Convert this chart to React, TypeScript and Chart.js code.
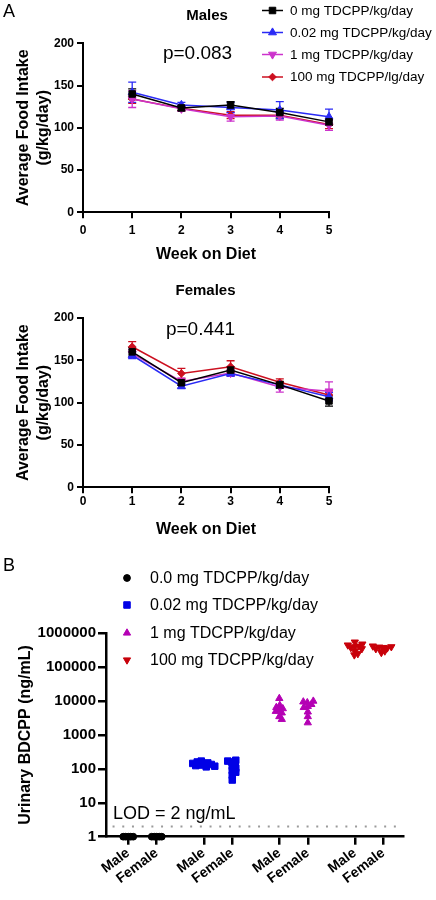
import React, { useEffect, useRef } from 'react';
import { Chart, registerables } from 'chart.js';
import { drawPoint } from 'chart.js/helpers';

Chart.register(...registerables);

const FONT = "'Liberation Sans', Arial, Helvetica, sans-serif";

// ---------------- Panel A data (food intake) ----------------
const weeks = [1, 2, 3, 4, 5];
const weekTicks = [0, 1, 2, 3, 4, 5];
const foodTicks = [0, 50, 100, 150, 200];
const doseLabelsA = ['0 mg TDCPP/kg/day', '0.02 mg TDCPP/kg/day', '1 mg TDCPP/kg/day', '100 mg TDCPP/lg/day'];

const maleMean0 = [140, 123.5, 127, 118, 107];
const maleMean002 = [142, 127, 124, 121, 113];
const maleMean1 = [134, 122.5, 113, 114, 103];
const maleMean100 = [134, 123, 115, 115, 104];
const maleSem0 = [6, 3, 4, 5, 4];
const maleSem002 = [12, 3, 6, 10, 9];
const maleSem1 = [10, 3, 5, 5, 6];
const maleSem100 = [5, 3, 4, 4, 5];

const femaleMean0 = [160, 123.5, 138.5, 121, 102];
const femaleMean002 = [156, 119.5, 134.5, 121, 107];
const femaleMean1 = [158, 125, 135, 118.5, 113.5];
const femaleMean100 = [166, 134.5, 142.5, 124, 109];
const femaleSem0 = [5, 3, 4, 4, 6];
const femaleSem002 = [4, 3, 3, 3, 5];
const femaleSem1 = [5, 4, 4, 6, 11];
const femaleSem100 = [6, 6, 7, 4, 5];

const pMales = 'p=0.083';
const pFemales = 'p=0.441';

// ---------------- Panel B data (urinary BDCPP) ----------------
const doseLabelsB = ['0.0 mg TDCPP/kg/day', '0.02 mg TDCPP/kg/day', '1 mg TDCPP/kg/day', '100 mg TDCPP/kg/day'];
const sexLabels = ['Male', 'Female', 'Male', 'Female', 'Male', 'Female', 'Male', 'Female'];
const groupPositions = [0, 1, 2.65, 3.65, 5.3, 6.3, 7.95, 8.95];
const logTicks = [1, 10, 100, 1000, 10000, 100000, 1000000];
const lodValue = 2;
const lodText = 'LOD = 2 ng/mL';

const bdcppMale0 = [1, 1, 1, 1, 1];
const bdcppFemale0 = [1, 1, 1, 1, 1];
const bdcppMale002 = [140, 150, 130, 160, 135, 170, 125, 145, 120, 115];
const bdcppFemale002 = [120, 140, 105, 160, 90, 170, 80, 180, 65, 47];
const bdcppMale1 = [5500, 6000, 5000, 6500, 4500, 7500, 3500, 12000, 2900];
const bdcppFemale1 = [7000, 8000, 6500, 9000, 9500, 4800, 10000, 3500, 2300];
const bdcppMale100 = [400000, 420000, 380000, 450000, 350000, 480000, 300000, 550000, 250000, 230000];
const bdcppFemale100 = [380000, 370000, 390000, 350000, 400000, 420000, 300000, 270000];

// ---------------- styles ----------------
const colorsA = ['#000000', '#2a2af5', '#cc33cc', '#cc1020'];
const stylesA = ['rect', 'triangle', 'triangle', 'rectRot'];
const rotA = [0, 0, 180, 0];
const radiiA = [4.6, 4.6, 4.6, 3.8];

const colorsB = ['#000000', '#0000e6', '#b400b4', '#c8000a'];
const stylesB = ['circle', 'rect', 'triangle', 'triangle'];
const rotB = [0, 0, 0, 180];
const radiiB = [3.4, 4.6, 4.2, 4.2];

const X_MIN_B = -0.78;
const X_MAX_B = 9.64;
const PX_PER_UNIT_B = 28.5;
const PX_PER_DECADE_B = 33.9;

function swarm(center: number, values: number[], minDist: number) {
  const placed: { px: number; py: number }[] = [];
  const out: { x: number; y: number }[] = [];
  for (const v of values) {
    const py = Math.log10(v) * PX_PER_DECADE_B;
    let chosen = 0;
    for (let k = 0; k < 400; k++) {
      const px = (k % 2 === 1 ? 1 : -1) * Math.ceil(k / 2) * 0.5;
      if (placed.every((p) => Math.hypot(p.px - px, p.py - py) >= minDist)) {
        chosen = px;
        break;
      }
    }
    placed.push({ px: chosen, py });
    out.push({ x: center + chosen / PX_PER_UNIT_B, y: v });
  }
  return out;
}

// ---------------- plugins ----------------
function makeTextPlugin(items: any[], extra?: (chart: any) => void) {
  return {
    id: 'texts',
    afterDraw(chart: any) {
      const ctx = chart.ctx;
      ctx.save();
      ctx.fillStyle = '#000';
      ctx.textBaseline = 'middle';
      for (const it of items) {
        ctx.font = it.font;
        ctx.textAlign = it.align || 'left';
        ctx.fillText(it.text, it.x, it.y);
      }
      if (extra) extra(chart);
      ctx.restore();
    },
  };
}

function makeLegendPlugin(cfg: any) {
  return {
    id: 'customLegend',
    afterDraw(chart: any) {
      const ctx = chart.ctx;
      ctx.save();
      ctx.font = cfg.font;
      ctx.textBaseline = 'middle';
      ctx.textAlign = 'left';
      cfg.labels.forEach((label: string, i: number) => {
        const ds = chart.data.datasets[i];
        const y = cfg.rows[i];
        ctx.strokeStyle = ds.borderColor;
        ctx.fillStyle = ds.backgroundColor;
        if (cfg.lineFrom !== undefined) {
          ctx.lineWidth = 1.5;
          ctx.beginPath();
          ctx.moveTo(cfg.lineFrom, y);
          ctx.lineTo(cfg.lineTo, y);
          ctx.stroke();
        }
        ctx.lineWidth = 1;
        drawPoint(ctx, { pointStyle: ds.pointStyle, rotation: ds.pointRotation || 0, radius: ds.pointRadius, borderWidth: 1 }, cfg.markerX, y);
        ctx.fillStyle = '#000';
        ctx.fillText(label, cfg.textX, y + 0.5);
      });
      ctx.restore();
    },
  };
}

function makeErrorBarPlugin(sems: number[][]) {
  return {
    id: 'errorBars',
    beforeDatasetsDraw(chart: any) {
      const ctx = chart.ctx;
      const yS = chart.scales.y;
      ctx.save();
      for (let i = sems.length - 1; i >= 0; i--) {
        const ds = chart.data.datasets[i];
        const meta = chart.getDatasetMeta(i);
        ctx.strokeStyle = ds.borderColor;
        ctx.lineWidth = 1.3;
        sems[i].forEach((e, j) => {
          const pt = meta.data[j];
          const v = ds.data[j].y;
          const yt = yS.getPixelForValue(v + e);
          const yb = yS.getPixelForValue(v - e);
          ctx.beginPath();
          ctx.moveTo(pt.x, yt);
          ctx.lineTo(pt.x, yb);
          ctx.moveTo(pt.x - 4, yt);
          ctx.lineTo(pt.x + 4, yt);
          ctx.moveTo(pt.x - 4, yb);
          ctx.lineTo(pt.x + 4, yb);
          ctx.stroke();
        });
      }
      ctx.restore();
    },
  };
}

// ---------------- chart configs ----------------
function foodConfig(opts: any) {
  const { means, sems, padTop, xAxisHeight, xTickPad, xTitlePad, texts, legend } = opts;
  const datasets = means.map((m: number[], i: number) => ({
    label: doseLabelsA[i],
    data: weeks.map((w, j) => ({ x: w, y: m[j] })),
    borderColor: colorsA[i],
    backgroundColor: colorsA[i],
    pointBackgroundColor: colorsA[i],
    pointBorderColor: colorsA[i],
    pointStyle: stylesA[i],
    pointRotation: rotA[i],
    pointRadius: radiiA[i],
    pointBorderWidth: 1,
    borderWidth: 1.5,
    tension: 0,
    clip: false,
  }));
  const grid = { display: true, drawOnChartArea: false, drawTicks: true, tickLength: 6, color: '#000', lineWidth: 2 };
  const border = { display: true, color: '#000', width: 2 };
  const tickFont = { family: FONT, size: 12, weight: 'bold' };
  const plugins: any[] = [makeErrorBarPlugin(sems), makeTextPlugin(texts)];
  if (legend) plugins.push(makeLegendPlugin(legend));
  return {
    type: 'line',
    data: { datasets },
    options: {
      responsive: false,
      animation: false,
      devicePixelRatio: 1,
      layout: { padding: { left: 0, top: padTop, right: 107, bottom: 0 } },
      plugins: { legend: { display: false }, tooltip: { enabled: false }, title: { display: false } },
      scales: {
        x: {
          type: 'linear',
          min: 0,
          max: 5,
          afterBuildTicks: (s: any) => { s.ticks = weekTicks.map((v) => ({ value: v })); },
          afterFit: (s: any) => { s.height = xAxisHeight; },
          grid,
          border,
          ticks: { color: '#000', font: tickFont, padding: xTickPad, maxRotation: 0, autoSkip: false },
          title: {
            display: true,
            text: 'Week on Diet',
            color: '#000',
            font: { family: FONT, size: 16, weight: 'bold' },
            padding: { top: 0, bottom: xTitlePad },
          },
        },
        y: {
          type: 'linear',
          min: 0,
          max: 200,
          afterBuildTicks: (s: any) => { s.ticks = foodTicks.map((v) => ({ value: v })); },
          afterFit: (s: any) => { s.width = 83; },
          grid,
          border,
          ticks: { color: '#000', font: tickFont, padding: 3 },
          title: {
            display: true,
            text: ['Average Food Intake', '(g/kg/day)'],
            color: '#000',
            font: { family: FONT, size: 16, weight: 'bold' },
            padding: { top: 14.4, bottom: 0 },
          },
        },
      },
    },
    plugins,
  };
}

function malesConfig() {
  return foodConfig({
    means: [maleMean0, maleMean002, maleMean1, maleMean100],
    sems: [maleSem0, maleSem002, maleSem1, maleSem100],
    padTop: 43.3,
    xAxisHeight: 57.7,
    xTickPad: 5.5,
    xTitlePad: 5.4,
    texts: [
      { text: 'A', x: 3, y: 12.5, font: `18px ${FONT}` },
      { text: 'Males', x: 207, y: 16, font: `bold 15px ${FONT}`, align: 'center' },
      { text: pMales, x: 197.5, y: 53.5, font: `19px ${FONT}`, align: 'center' },
    ],
    legend: {
      labels: doseLabelsA,
      rows: [10.5, 32.5, 54.5, 77],
      lineFrom: 262,
      lineTo: 283,
      markerX: 272.5,
      textX: 290,
      font: `13.5px ${FONT}`,
    },
  });
}

function femalesConfig() {
  return foodConfig({
    means: [femaleMean0, femaleMean002, femaleMean1, femaleMean100],
    sems: [femaleSem0, femaleSem002, femaleSem1, femaleSem100],
    padTop: 48,
    xAxisHeight: 52.7,
    xTickPad: 0.8,
    xTitlePad: 1.1,
    texts: [
      { text: 'Females', x: 205.5, y: 20.7, font: `bold 15px ${FONT}`, align: 'center' },
      { text: pFemales, x: 200.5, y: 60, font: `19px ${FONT}`, align: 'center' },
    ],
  });
}

function bdcppConfig() {
  const groups = [
    [bdcppMale0, bdcppFemale0],
    [bdcppMale002, bdcppFemale002],
    [bdcppMale1, bdcppFemale1],
    [bdcppMale100, bdcppFemale100],
  ];
  const datasets: any[] = groups.map((g, i) => ({
    type: 'scatter',
    label: doseLabelsB[i],
    data: [
      ...swarm(groupPositions[2 * i], g[0], i === 0 ? 2.5 : 3.7),
      ...swarm(groupPositions[2 * i + 1], g[1], i === 0 ? 2.5 : 3.7),
    ],
    borderColor: colorsB[i],
    backgroundColor: colorsB[i],
    pointBackgroundColor: colorsB[i],
    pointBorderColor: colorsB[i],
    pointStyle: stylesB[i],
    pointRotation: rotB[i],
    pointRadius: radiiB[i],
    pointBorderWidth: 1,
    showLine: false,
    clip: false,
  }));
  datasets.push({
    type: 'line',
    label: 'LOD',
    data: [{ x: -0.55, y: lodValue }, { x: X_MAX_B - 0.05, y: lodValue }],
    borderColor: '#9a9a9a',
    borderWidth: 2,
    borderDash: [2, 7.7],
    pointRadius: 0,
    fill: false,
    order: 10,
  });
  const grid = { display: true, drawOnChartArea: false, drawTicks: true, tickLength: 8, color: '#000', lineWidth: 2.5 };
  const border = { display: true, color: '#000', width: 2.5 };
  return {
    type: 'scatter',
    data: { datasets },
    options: {
      responsive: false,
      animation: false,
      devicePixelRatio: 1,
      layout: { padding: { left: 0, top: 88.3, right: 33, bottom: 0 } },
      plugins: { legend: { display: false }, tooltip: { enabled: false } },
      scales: {
        x: {
          type: 'linear',
          min: X_MIN_B,
          max: X_MAX_B,
          afterBuildTicks: (s: any) => { s.ticks = groupPositions.map((v) => ({ value: v })); },
          afterFit: (s: any) => { s.height = 63.3; },
          grid,
          border,
          ticks: {
            color: '#000',
            font: { family: FONT, size: 14, weight: 'bold' },
            padding: 0,
            minRotation: 37,
            maxRotation: 37,
            autoSkip: false,
            callback: (_v: any, idx: number) => sexLabels[idx],
          },
        },
        y: {
          type: 'logarithmic',
          min: 1,
          max: 1000000,
          afterBuildTicks: (s: any) => { s.ticks = logTicks.map((v) => ({ value: v })); },
          afterFit: (s: any) => { s.width = 106; },
          grid,
          border,
          ticks: { color: '#000', font: { family: FONT, size: 15, weight: 'bold' }, padding: 2, callback: (v: any) => String(v) },
          title: {
            display: true,
            text: 'Urinary BDCPP (ng/mL)',
            color: '#000',
            font: { family: FONT, size: 16, weight: 'bold' },
            padding: { top: 16.4, bottom: 0 },
          },
        },
      },
    },
    plugins: [
      makeTextPlugin([{ text: 'B', x: 3, y: 21.5, font: `18px ${FONT}` }], (chart: any) => {
        const ctx = chart.ctx;
        const y = chart.scales.y.getPixelForValue(lodValue);
        ctx.font = `18px ${FONT}`;
        ctx.textAlign = 'left';
        ctx.fillText(lodText, 113, y - 12);
      }),
      makeLegendPlugin({
        labels: doseLabelsB,
        rows: [33, 60, 88, 115],
        markerX: 127,
        textX: 150,
        font: `16px ${FONT}`,
      }),
    ],
  };
}

function ChartCanvas({ make, top, height }: { make: () => any; top: number; height: number }) {
  const ref = useRef<HTMLCanvasElement | null>(null);
  useEffect(() => {
    const chart = new Chart(ref.current as HTMLCanvasElement, make());
    return () => chart.destroy();
  }, [make]);
  return (
    <canvas
      ref={ref}
      width={436}
      height={height}
      style={{ position: 'absolute', left: 0, top, width: 436, height, display: 'block' }}
    />
  );
}

export default function App() {
  return (
    <div style={{ position: 'absolute', left: 0, top: 0, width: 436, height: 900, background: '#fff', overflow: 'hidden' }}>
      <ChartCanvas make={malesConfig} top={0} height={270} />
      <ChartCanvas make={femalesConfig} top={270} height={270} />
      <ChartCanvas make={bdcppConfig} top={545} height={355} />
    </div>
  );
}
